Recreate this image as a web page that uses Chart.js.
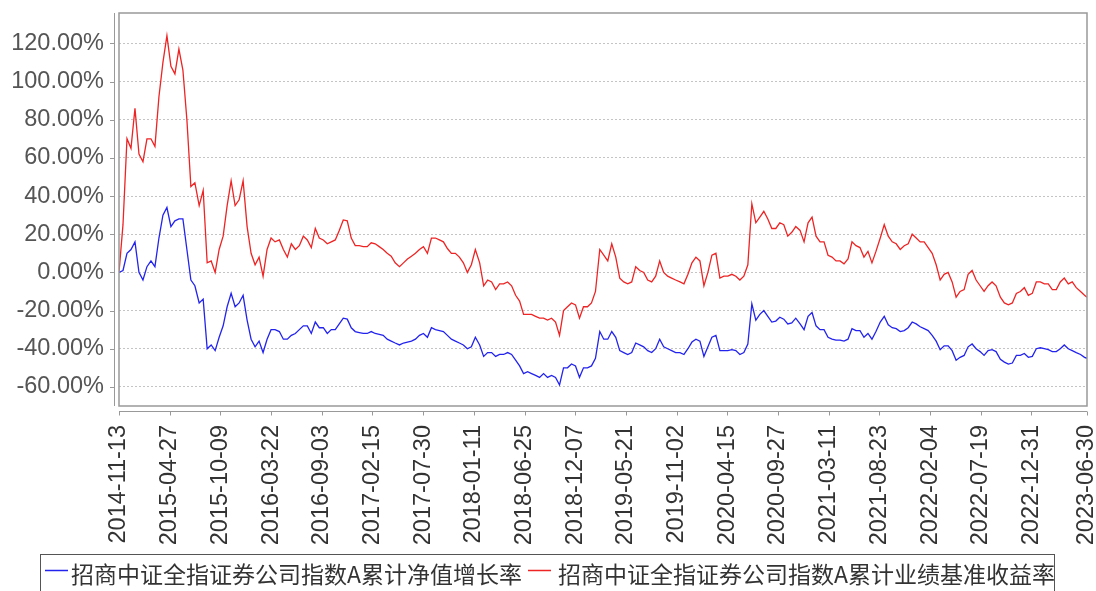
<!DOCTYPE html>
<html>
<head>
<meta charset="utf-8">
<script src="https://cdn.jsdelivr.net/npm/chart.js@4.4.0/dist/chart.umd.min.js"></script>
<style>
  html, body { margin: 0; padding: 0; background: #fff; }
  #wrap { width: 1096px; height: 591px; position: relative; }
</style>
</head>
<body>
<div id="wrap"><canvas id="c" width="1096" height="591"></canvas></div>
<script>
// --- Data ---
const startDate = Date.UTC(2014, 10, 13); // 2014-11-13

// days since start date, one sample about every two weeks
const dayOffsets = [
  0, 13, 26, 39, 52, 65, 78, 91, 104, 117,
  130, 143, 156, 169, 182, 195, 208, 221, 234, 247,
  261, 274, 287, 300, 313, 326, 339, 352, 365, 378,
  391, 404, 417, 430, 443, 456, 469, 482, 495, 508,
  522, 535, 548, 561, 574, 587, 600, 613, 626, 639,
  652, 665, 678, 691, 704, 717, 730, 743, 756, 769,
  782, 795, 808, 821, 834, 847, 860, 873, 886, 899,
  913, 926, 939, 952, 965, 978, 991, 1004, 1017, 1030,
  1043, 1056, 1069, 1082, 1095, 1108, 1121, 1134, 1147, 1160,
  1174, 1187, 1200, 1213, 1226, 1239, 1252, 1265, 1278, 1291,
  1304, 1317, 1330, 1343, 1356, 1369, 1382, 1395, 1408, 1421,
  1434, 1447, 1460, 1473, 1486, 1499, 1512, 1525, 1538, 1551,
  1565, 1578, 1591, 1604, 1617, 1630, 1643, 1656, 1669, 1682,
  1695, 1708, 1721, 1734, 1747, 1760, 1773, 1786, 1799, 1812,
  1826, 1839, 1852, 1865, 1878, 1891, 1904, 1917, 1930, 1943,
  1956, 1969, 1982, 1995, 2008, 2021, 2034, 2047, 2060, 2073,
  2086, 2099, 2112, 2125, 2138, 2151, 2164, 2177, 2190, 2203,
  2217, 2230, 2243, 2256, 2269, 2282, 2295, 2308, 2321, 2334,
  2347, 2360, 2373, 2386, 2399, 2412, 2425, 2438, 2451, 2464,
  2478, 2491, 2504, 2517, 2530, 2543, 2556, 2569, 2582, 2595,
  2608, 2621, 2634, 2647, 2660, 2673, 2686, 2699, 2712, 2725,
  2738, 2751, 2764, 2777, 2790, 2803, 2816, 2829, 2842, 2855,
  2869, 2882, 2895, 2908, 2921, 2934, 2947, 2960, 2973, 2986,
  2999, 3012, 3025, 3038, 3051, 3064, 3077, 3090, 3103, 3116,
  3130, 3143, 3151
];

// 累计净值增长率 (%)
const navGrowth = [
  0, 1, 10, 12, 16, 0, -4, 3, 6, 3,
  18, 30, 34, 24, 27, 28, 28, 12, -4, -7,
  -16, -14, -40, -38, -41, -34, -28, -18, -11, -18,
  -16, -12, -25, -35, -39, -36, -42, -35, -30, -30,
  -31, -35, -35, -33, -32, -30, -28, -28, -32, -26,
  -29, -29, -32, -30, -30, -27, -24, -24.5, -29, -31,
  -31.5, -32, -32, -31, -32, -32.5, -33, -35, -36, -37,
  -38, -37, -36.5, -36, -35, -33, -32, -34, -29, -30,
  -30.5, -31, -33, -35, -36, -37, -38, -40, -39, -34,
  -38, -44, -42, -42, -44, -43, -43, -42, -43, -46,
  -49, -53, -52, -53, -54, -55, -53, -55, -54, -55,
  -59, -50, -50, -48, -49, -55, -50, -50, -49, -45,
  -31, -35, -35, -31, -34, -41, -42, -43, -42, -37,
  -38, -39, -41, -42, -40, -35, -39, -40, -41, -42,
  -42, -43, -40, -36.5, -35, -36, -44, -39, -34, -33,
  -41, -41, -41, -40.5, -41, -43, -42, -37.5, -16.5, -25,
  -22, -20, -23, -26, -25.5, -23.5, -24.5, -27, -26.5, -24,
  -27, -30, -23, -21, -28, -30, -30, -34, -35, -35.5,
  -35.5, -36, -35, -29.5, -30.5, -30.5, -34, -32, -35, -31,
  -26, -23, -27.5, -29, -29.5, -31, -30.5, -29, -26, -27,
  -28.5, -29.5, -30.5, -33, -36, -40.5, -38.5, -38.5, -41, -46,
  -44.5, -43.5, -39, -37.5, -40, -41.5, -43.5, -41, -40.5, -41.5,
  -45.5, -47, -48, -47.5, -43.5, -43.5, -42.5, -44.5, -44, -40,
  -39.5, -40, -40.5, -41.5, -41.5, -40, -38, -40, -41, -42,
  -43, -44.5, -45
];

// 累计业绩基准收益率 (%)
const benchGrowth = [
  0, 25, 70, 65, 86, 62, 58, 70, 70, 66,
  92, 110, 124, 108, 104, 117, 106, 80, 45, 47,
  35, 43, 5, 6, 0, 12, 19, 35, 48, 35,
  38, 48, 24, 10, 4, 8, -2, 12, 18, 16,
  17, 12, 8, 15, 12, 14, 19, 17, 13, 23,
  18, 17, 15, 16, 17, 22, 27.5, 27, 18, 14,
  14, 13.5, 13.5, 15.5, 15, 13.5, 12, 10, 8.5, 5,
  3, 5, 7, 8.5, 10, 12, 13.5, 10, 18, 18,
  17, 16, 12.5, 10, 10, 8, 5, 0, 4, 12,
  5, -7, -4, -5, -9, -6, -6, -5, -7, -12,
  -15, -22, -22, -22, -23, -24, -24, -25, -24, -26,
  -33, -20, -18, -16, -17, -24, -18, -18, -16, -10,
  12, 9, 6, 15, 8, -3, -5, -6, -5, 3,
  1, 0, -4, -5, -2, 6, 0, -2, -3, -4,
  -5, -6, -1, 5, 8, 6, -7, 0, 9, 10,
  -3, -2, -2, -1, -2, -4, -2, 4, 36, 26,
  29, 32, 28, 23, 23, 26, 25, 19, 21, 24,
  22, 16, 26, 29, 19, 16, 16, 9, 8, 6,
  6, 4.5, 7, 16, 14, 13, 8, 11, 5, 11,
  18, 25, 19, 16, 15, 12, 14, 15, 20, 18,
  16, 16, 13, 10, 4, -4, -1, 0, -5, -13,
  -10, -9, -1, 1, -4, -7, -10, -7, -5, -7,
  -13, -16, -17, -16, -11, -10, -8, -12, -11, -5,
  -5, -6, -6, -9, -9, -5, -3, -6, -5, -8,
  -10, -12, -13
];

// tick positions (days since start) and y ticks (%)
const xTickDays = [0, 165, 330, 495, 660, 825, 990, 1155, 1320, 1485, 1650,
  1815, 1980, 2145, 2310, 2475, 2640, 2805, 2970, 3151];
const yTicks = [-60, -40, -20, 0, 20, 40, 60, 80, 100, 120];

const seriesNames = ['招商中证全指证券公司指数A累计净值增长率', '招商中证全指证券公司指数A累计业绩基准收益率'];
const seriesColors = ['#2323ee', '#ee2323'];

function dayToLabel(d) {
  return new Date(startDate + d * 86400000).toISOString().slice(0, 10);
}

const navPoints = dayOffsets.map((d, i) => ({ x: d, y: navGrowth[i] }));
const benchPoints = dayOffsets.map((d, i) => ({ x: d, y: benchGrowth[i] }));

// --- Frame, offset axes and legend ---
const framePlugin = {
  id: 'frame',
  afterDraw(chart) {
    const ctx = chart.ctx;
    const a = chart.chartArea;
    const xs = chart.scales.x, ys = chart.scales.y;
    ctx.save();
    // plot border
    ctx.strokeStyle = '#999';
    ctx.lineWidth = 1.5;
    ctx.strokeRect(a.left, a.top, a.right - a.left, a.bottom - a.top);

    // y axis line + ticks
    ctx.lineWidth = 1;
    ctx.strokeStyle = '#999';
    ctx.beginPath();
    ctx.moveTo(a.left - 4.5, a.top);
    ctx.lineTo(a.left - 4.5, a.bottom);
    yTicks.forEach(v => {
      const py = Math.round(ys.getPixelForValue(v)) + 0.5;
      ctx.moveTo(a.left - 9, py);
      ctx.lineTo(a.left - 4.5, py);
    });
    // x axis line + ticks
    const ay = a.bottom + 5.5;
    ctx.moveTo(a.left, ay);
    ctx.lineTo(a.right, ay);
    xTickDays.forEach(v => {
      const px = Math.round(xs.getPixelForValue(v)) + 0.5;
      ctx.moveTo(px, ay);
      ctx.lineTo(px, ay + 4);
    });
    ctx.stroke();

    // legend box
    ctx.strokeStyle = '#555';
    ctx.lineWidth = 1;
    ctx.strokeRect(40.5, 554.5, 1014, 60);
    ctx.font = '23px "Noto Sans CJK SC", sans-serif';
    ctx.textBaseline = 'middle';
    ctx.fillStyle = '#333';
    const items = [
      { lx: 45, tx: 71 },
      { lx: 528, tx: 558 }
    ];
    items.forEach((it, i) => {
      ctx.strokeStyle = seriesColors[i];
      ctx.lineWidth = 1.5;
      ctx.beginPath();
      ctx.moveTo(it.lx, 570.5);
      ctx.lineTo(it.lx + 23, 570.5);
      ctx.stroke();
      ctx.fillText(seriesNames[i], it.tx, 574);
    });
    ctx.restore();
  }
};

new Chart(document.getElementById('c'), {
  type: 'line',
  data: {
    datasets: [
      { label: seriesNames[0], data: navPoints, borderColor: seriesColors[0], borderWidth: 1.3, pointRadius: 0, tension: 0 },
      { label: seriesNames[1], data: benchPoints, borderColor: seriesColors[1], borderWidth: 1.3, pointRadius: 0, tension: 0 }
    ]
  },
  options: {
    responsive: false,
    animation: false,
    events: [],
    layout: { padding: { left: 0, right: 9, top: 13, bottom: 0 } },
    plugins: { legend: { display: false }, tooltip: { enabled: false } },
    scales: {
      x: {
        type: 'linear',
        min: 0,
        max: 3151,
        grid: { display: false },
        border: { display: false },
        afterBuildTicks: s => { s.ticks = xTickDays.map(v => ({ value: v })); },
        afterFit: s => { s.height = 185; s.paddingLeft = 0; s.paddingRight = 0; },
        ticks: {
          autoSkip: false,
          minRotation: 90,
          maxRotation: 90,
          padding: 11,
          color: '#333',
          font: { family: '"Liberation Sans", Arial, sans-serif', size: 23.5 },
          callback: v => dayToLabel(v)
        }
      },
      y: {
        min: -70,
        max: 135.9,
        grid: { color: '#c4c4c4', lineWidth: 1, drawTicks: false },
        border: { display: false, dash: [2, 2] },
        afterBuildTicks: s => { s.ticks = yTicks.map(v => ({ value: v })); },
        afterFit: s => { s.width = 119; s.paddingTop = 0; s.paddingBottom = 0; },
        ticks: {
          padding: 15,
          color: '#555',
          font: { family: '"Liberation Sans", Arial, sans-serif', size: 23.5 },
          callback: v => v.toFixed(2) + '%'
        }
      }
    }
  },
  plugins: [framePlugin]
});
</script>
</body>
</html>
